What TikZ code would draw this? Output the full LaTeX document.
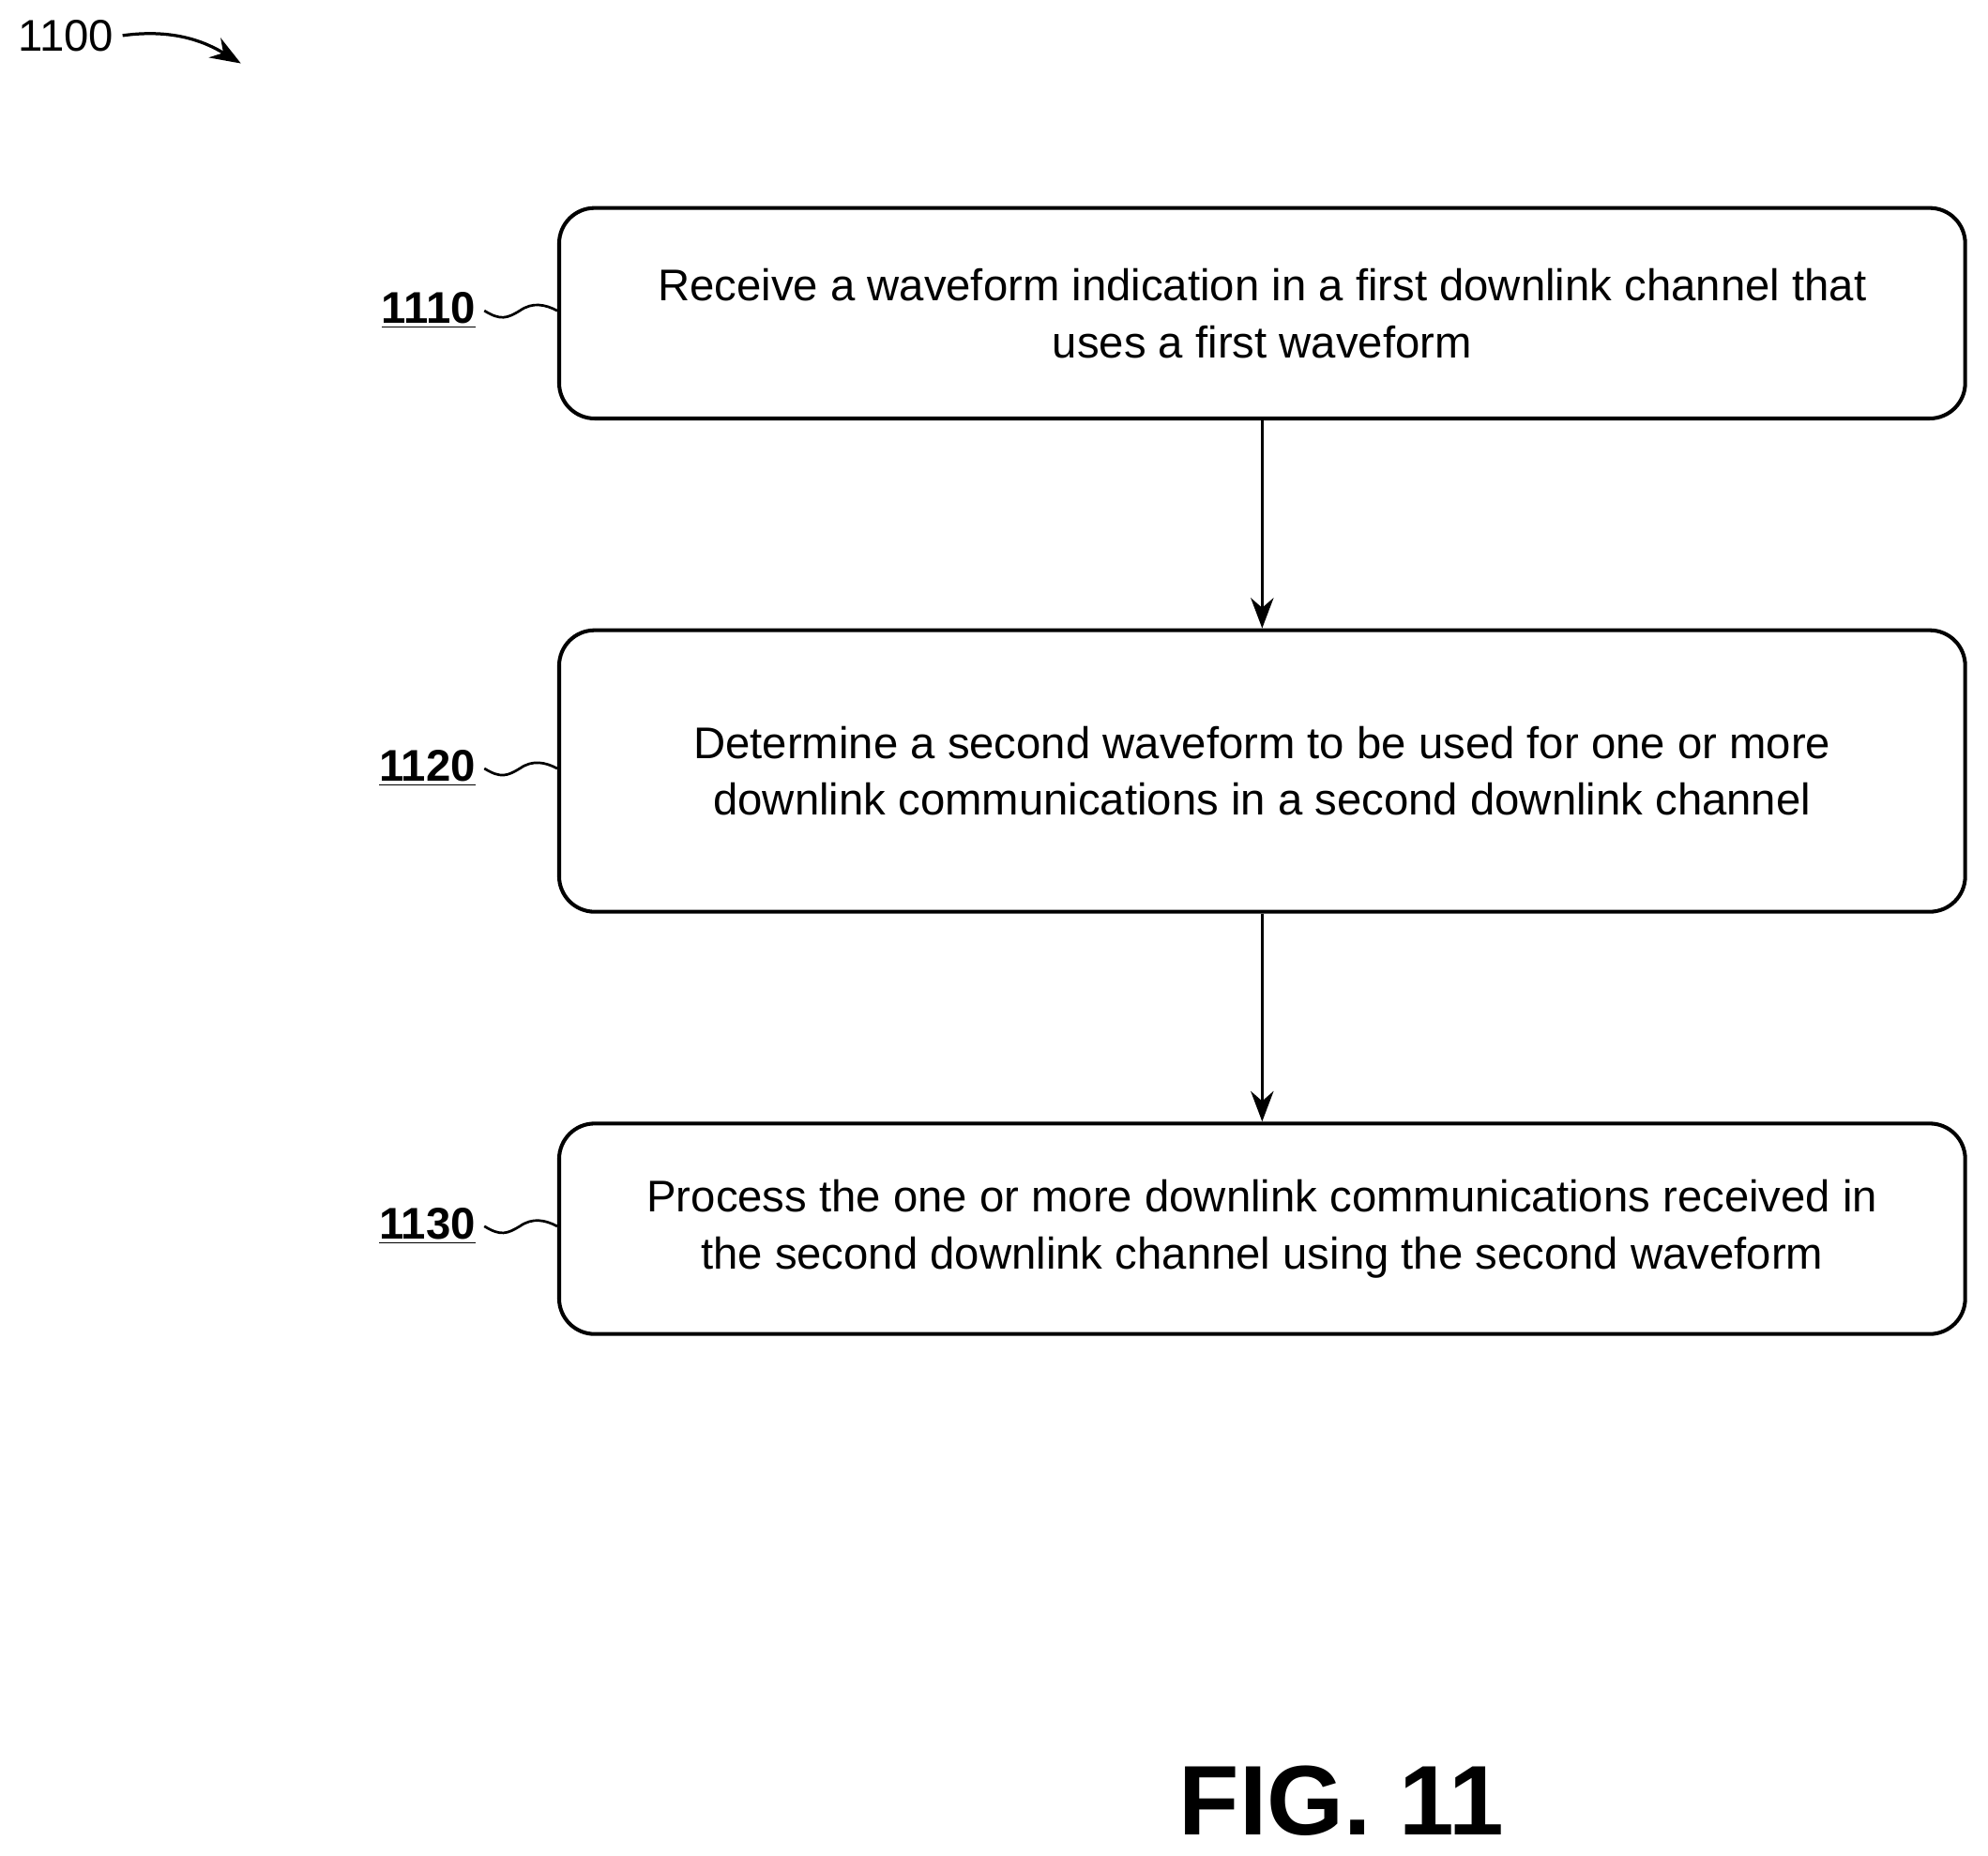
\documentclass[tikz,border=0pt]{standalone}
\usepackage{fontspec}
\setmainfont{Liberation Sans}
\usetikzlibrary{arrows.meta}
\begin{document}
\begin{tikzpicture}[x=0.5pt,y=-0.5pt,
  box/.style={draw,line width=1.5pt,rounded corners=14pt,minimum width=554.5pt,align=center,font=\fontsize{17.5}{22.5}\selectfont},
  lab/.style={font=\bfseries\fontsize{17.5}{20}\selectfont},
  arr/.style={-{Stealth[length=12pt,width=9pt]},line width=1.2pt}]
\useasboundingbox (0,0) rectangle (1568,1463);
\node[box,minimum height=83pt] (b1) at (995.5,247) {Receive a waveform indication in a first downlink channel that\\uses a first waveform};
\node[box,minimum height=111pt] (b2) at (995.5,608) {Determine a second waveform to be used for one or more\\downlink communications in a second downlink channel};
\node[box,minimum height=83pt] (b3) at (995.5,969) {Process the one or more downlink communications received in\\the second downlink channel using the second waveform};
\draw[arr] (b1) -- (b2);
\draw[arr] (b2) -- (b3);
\foreach \n/\y/\b in {1110/245/b1,1120/606/b2,1130/967/b3}{
  \node[lab,anchor=east] (l\n) at (382,\y) {\underline{\n}};
  \draw[line width=1pt] (l\n.east) .. controls (395,\y+8) and (400,\y+6) .. (410,\y) .. controls (420,\y-7) and (430,\y-5) .. (\b.west|-0,\y);
}
\node[font=\fontsize{17.5}{20}\selectfont] (t) at (52,28) {1100};
\coordinate (te) at (190,50);
\draw[arr] (t.east) .. controls (140,22) and (165,35) .. (te);
\node[font=\bfseries\fontsize{39}{44}\selectfont] (fig) at (1058,1420) {FIG. 11};
\end{tikzpicture}
\end{document}
